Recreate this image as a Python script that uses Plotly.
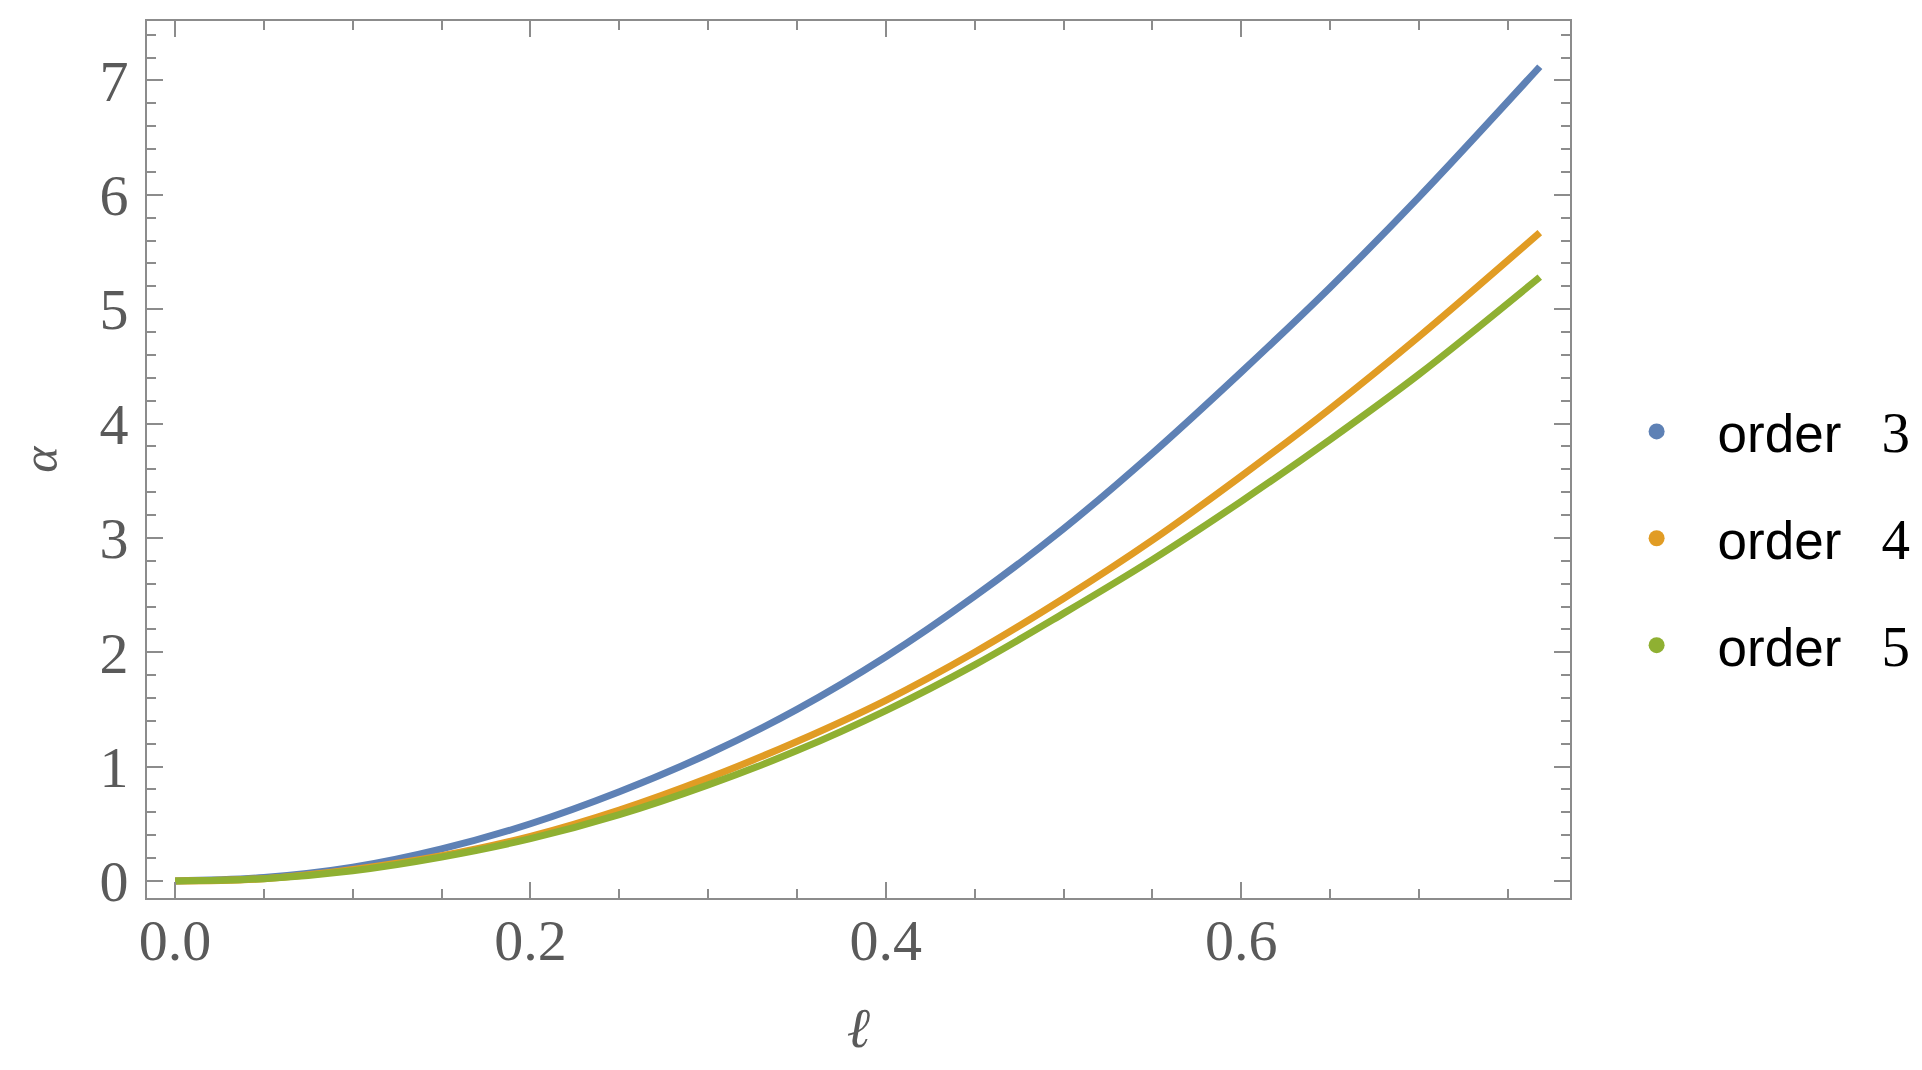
import plotly.graph_objects as go

# --- data ---
ell = [0.0, 0.05, 0.10, 0.15, 0.20, 0.25, 0.30, 0.35, 0.40, 0.45, 0.50,
       0.55, 0.60, 0.65, 0.70, 0.768]
alpha_order3 = [0.0, 0.03, 0.12, 0.28, 0.50, 0.78, 1.11, 1.50, 1.96, 2.49, 3.08,
                3.74, 4.45, 5.19, 5.98, 7.12]
alpha_order4 = [0.0, 0.02, 0.10, 0.22, 0.39, 0.62, 0.90, 1.22, 1.58, 2.00, 2.47,
                2.98, 3.54, 4.13, 4.76, 5.67]
alpha_order5 = [0.0, 0.02, 0.09, 0.21, 0.37, 0.58, 0.84, 1.14, 1.49, 1.89, 2.34,
                2.81, 3.32, 3.86, 4.43, 5.28]

series_names = ["3", "4", "5"]
series_values = [alpha_order3, alpha_order4, alpha_order5]
colors = ["#5E81B5", "#E19C24", "#8FB032"]

x_ticks = [0.0, 0.2, 0.4, 0.6]
x_ticklabels = ["0.0", "0.2", "0.4", "0.6"]
y_ticks = [0, 1, 2, 3, 4, 5, 6, 7]
y_ticklabels = ["0", "1", "2", "3", "4", "5", "6", "7"]

FRAME = "#8c8c8c"
LABEL = "#5a5a5a"
SERIF = "Liberation Serif, Times New Roman, serif"
SANS = "Liberation Sans, Arial, sans-serif"

fig = go.Figure()

for name, vals, col in zip(series_names, series_values, colors):
    fig.add_trace(go.Scatter(
        x=ell, y=vals, mode="lines",
        line=dict(color=col, width=7, shape="spline"),
        showlegend=False, hoverinfo="x+y",
    ))

for name, col in zip(series_names, colors):
    fig.add_trace(go.Scatter(
        x=[None], y=[None], mode="markers",
        marker=dict(color=col, size=20),
        name=("order\u00a0\u00a0\u2009<span style='font-family:Liberation Serif;font-size:57px'>"
              + name + "</span>"),
        legendgroup=name,
    ))

axis_common = dict(
    showline=True, linecolor=FRAME, linewidth=2, mirror="ticks",
    ticks="inside", tickcolor=FRAME, tickwidth=2, ticklen=16,
    showgrid=False, zeroline=False,
    tickfont=dict(family=SERIF, size=58, color=LABEL),
)

fig.update_xaxes(
    range=[-0.0158, 0.785],
    tickmode="array", tickvals=x_ticks, ticktext=x_ticklabels,
    minor=dict(dtick=0.05, tick0=0, ticks="inside", ticklen=9, tickcolor=FRAME, tickwidth=2),
    title=dict(text="<i>ℓ</i>", font=dict(family=SERIF, size=56, color=LABEL), standoff=36),
    ticklabelstandoff=-10,
    **axis_common,
)
fig.update_yaxes(
    range=[-0.149, 7.52],
    tickmode="array", tickvals=y_ticks, ticktext=y_ticklabels,
    minor=dict(dtick=0.2, tick0=0, ticks="inside", ticklen=9, tickcolor=FRAME, tickwidth=2),
    title=dict(text="<i>α</i>", font=dict(family=SERIF, size=50, color=LABEL), standoff=26),
    ticklabelstandoff=5,
    **axis_common,
)

fig.update_layout(
    width=1922, height=1070,
    margin=dict(l=139, r=360, t=13, b=180),
    paper_bgcolor="white", plot_bgcolor="white",
    legend=dict(
        x=1.018, y=0.41, xanchor="left", yanchor="middle",
        font=dict(family=SANS, size=53, color="black"),
        tracegroupgap=35, itemwidth=112,
        bgcolor="rgba(0,0,0,0)",
    ),
)

fig.write_html("out.html")
